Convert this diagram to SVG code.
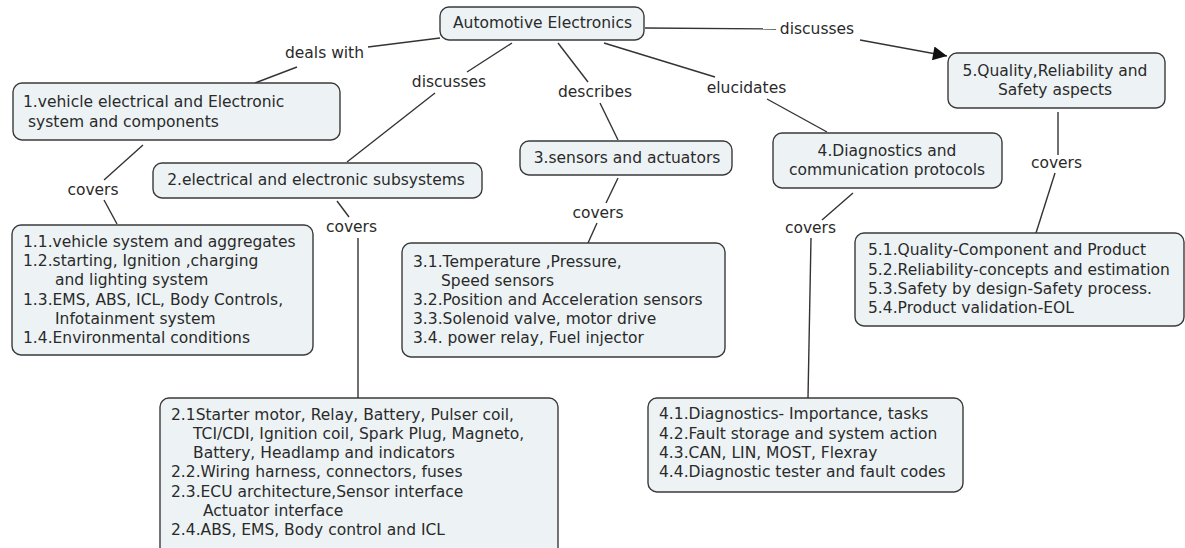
<svg xmlns="http://www.w3.org/2000/svg" width="1185" height="548" viewBox="0 0 1185 548">
<style>
.n{fill:#edf3f5;stroke:#3a3a3a;stroke-width:1.4}
.t{font-family:"DejaVu Sans",Verdana,sans-serif;font-size:15.5px;fill:#2a2a2a}
.m{text-anchor:middle}
.c line{stroke:#333;stroke-width:1.4}
</style>
<defs>
<marker id="ah" viewBox="0 0 10 10" refX="10" refY="5" markerWidth="16" markerHeight="14" markerUnits="userSpaceOnUse" orient="auto"><path d="M0,0L10,5L0,10z" fill="#111"/></marker>
</defs>
<rect width="1185" height="548" fill="#fff"/>
<g class="c" id="connectors">
<line x1="440" y1="38" x2="368" y2="47"/>
<line x1="297" y1="67" x2="255" y2="83"/>
<line x1="512" y1="43" x2="467" y2="72"/>
<line x1="435" y1="93" x2="347" y2="162"/>
<line x1="558" y1="43" x2="588" y2="82"/>
<line x1="600" y1="103" x2="618" y2="140"/>
<line x1="604" y1="43" x2="715" y2="77"/>
<line x1="767" y1="99" x2="827" y2="132"/>
<line x1="645" y1="28" x2="776" y2="29"/>
<line x1="860" y1="40" x2="947" y2="56" marker-end="url(#ah)"/>
<line x1="143" y1="145" x2="104" y2="180"/>
<line x1="104" y1="200" x2="117" y2="224"/>
<line x1="337" y1="201" x2="349" y2="217"/>
<line x1="358" y1="238" x2="358" y2="398"/>
<line x1="618" y1="178" x2="606" y2="203"/>
<line x1="597" y1="223" x2="588" y2="243"/>
<line x1="853" y1="193" x2="822" y2="220"/>
<line x1="811" y1="238" x2="808" y2="398"/>
<line x1="1058" y1="112" x2="1058" y2="155"/>
<line x1="1055" y1="173" x2="1036" y2="233"/>
<g class="t m">
<text x="324.5" y="58">deals with</text>
<text x="449" y="87">discusses</text>
<text x="595" y="97">describes</text>
<text x="746.5" y="93">elucidates</text>
<text x="817" y="34">discusses</text>
<text x="93" y="195">covers</text>
<text x="351.5" y="232">covers</text>
<text x="598" y="218">covers</text>
<text x="810.5" y="233">covers</text>
<text x="1056.5" y="168">covers</text>
</g>
</g>
<g id="root">
<rect class="n" x="440" y="7" width="204" height="33" rx="9"/>
<text class="t m" x="542.5" y="28">Automotive Electronics</text>
</g>
<g id="node1">
<rect class="n" x="13" y="83" width="327" height="57" rx="9"/>
<text class="t" x="23" y="107">1.vehicle electrical and Electronic</text>
<text class="t" x="28" y="127">system and components</text>
</g>
<g id="node2">
<rect class="n" x="153" y="163" width="329" height="35" rx="9"/>
<text class="t m" x="316" y="185">2.electrical and electronic subsystems</text>
</g>
<g id="node3">
<rect class="n" x="520" y="141" width="212" height="34" rx="9"/>
<text class="t m" x="627" y="163">3.sensors and actuators</text>
</g>
<g id="node4">
<rect class="n" x="773" y="133" width="229" height="55" rx="9"/>
<text class="t m" x="887" y="155.5">4.Diagnostics and</text>
<text class="t m" x="887" y="174.5">communication protocols</text>
</g>
<g id="node5">
<rect class="n" x="948" y="53" width="217" height="55" rx="9"/>
<text class="t m" x="1055" y="76">5.Quality,Reliability and</text>
<text class="t m" x="1055" y="95">Safety aspects</text>
</g>
<g id="node1x">
<rect class="n" x="12" y="225" width="301" height="130" rx="9"/>
<text class="t" x="23" y="247">1.1.vehicle system and aggregates</text>
<text class="t" x="23" y="266.2">1.2.starting, Ignition ,charging</text>
<text class="t" x="55" y="285.4">and lighting system</text>
<text class="t" x="23" y="304.6">1.3.EMS, ABS, ICL, Body Controls,</text>
<text class="t" x="55" y="323.8">Infotainment system</text>
<text class="t" x="23" y="343">1.4.Environmental conditions</text>
</g>
<g id="node3x">
<rect class="n" x="402" y="243" width="323" height="114" rx="9"/>
<text class="t" x="413" y="267">3.1.Temperature ,Pressure,</text>
<text class="t" x="441" y="286">Speed sensors</text>
<text class="t" x="413" y="305">3.2.Position and Acceleration sensors</text>
<text class="t" x="413" y="324">3.3.Solenoid valve, motor drive</text>
<text class="t" x="413" y="343">3.4. power relay, Fuel injector</text>
</g>
<g id="node5x">
<rect class="n" x="855" y="233" width="329" height="93" rx="9"/>
<text class="t" x="868" y="255">5.1.Quality-Component and Product</text>
<text class="t" x="868" y="274.5">5.2.Reliability-concepts and estimation</text>
<text class="t" x="868" y="294">5.3.Safety by design-Safety process.</text>
<text class="t" x="868" y="313">5.4.Product validation-EOL</text>
</g>
<g id="node2x">
<rect class="n" x="160" y="398" width="398" height="170" rx="9"/>
<text class="t" x="171" y="420">2.1Starter motor, Relay, Battery, Pulser coil,</text>
<text class="t" x="193" y="439">TCI/CDI, Ignition coil, Spark Plug, Magneto,</text>
<text class="t" x="193" y="458">Battery, Headlamp and indicators</text>
<text class="t" x="171" y="477">2.2.Wiring harness, connectors, fuses</text>
<text class="t" x="171" y="497">2.3.ECU architecture,Sensor interface</text>
<text class="t" x="203" y="516">Actuator interface</text>
<text class="t" x="171" y="535">2.4.ABS, EMS, Body control and ICL</text>
</g>
<g id="node4x">
<rect class="n" x="648" y="398" width="315" height="94" rx="9"/>
<text class="t" x="659" y="419">4.1.Diagnostics- Importance, tasks</text>
<text class="t" x="659" y="439">4.2.Fault storage and system action</text>
<text class="t" x="659" y="458">4.3.CAN, LIN, MOST, Flexray</text>
<text class="t" x="659" y="477">4.4.Diagnostic tester and fault codes</text>
</g>
</svg>
